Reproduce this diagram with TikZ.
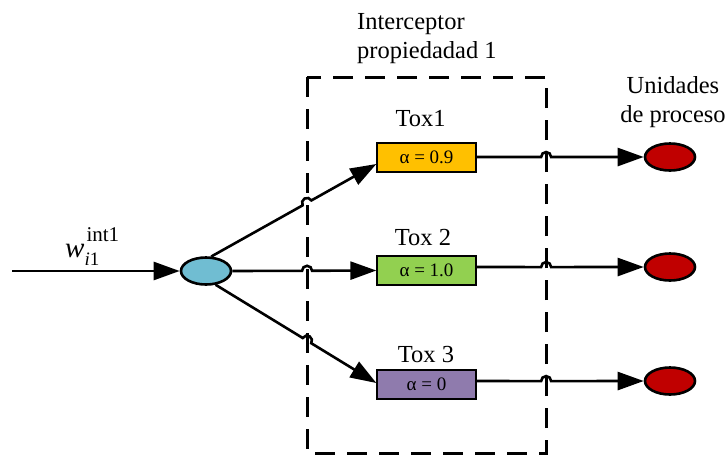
\documentclass[tikz,border=0pt]{standalone}
\usepackage{fontspec}
\setmainfont{Liberation Serif}
\usetikzlibrary{arrows.meta,calc,shapes.geometric}
\definecolor{toxorange}{HTML}{FFC000}
\definecolor{toxgreen}{HTML}{92D050}
\definecolor{toxpurple}{HTML}{8F7BAD}
\definecolor{hubblue}{HTML}{70BDD2}
\definecolor{unitred}{HTML}{C00000}

% connector with a small hop where it crosses the dashed frame
\newcommand{\hopconn}[3]{%
  \draw[conn] let \p1=($(#3)-(#1)$), \n1={atan2(\y1,\x1)} in
    (#1) -- ($(#2)!5pt!(#1)$)
    arc[start angle=\n1+180, end angle=\n1, radius=5pt] -- (#3);}

\begin{document}
\begin{tikzpicture}[x=1pt,y=-1pt,
  conn/.style={line width=2.6pt,-{Triangle[length=26pt,width=18pt]}},
  toxbox/.style={draw,line width=1.3pt,minimum width=99pt,minimum height=29pt,
    inner sep=0pt,font=\fontsize{19}{22}\selectfont},
  unit/.style={ellipse,draw,line width=2.6pt,minimum width=50pt,
    minimum height=27pt,inner sep=0pt},
  lbl/.style={font=\fontsize{24.5}{28.5}\selectfont,inner sep=0pt},
  frame/.style={line width=3pt,dash pattern=on 20pt off 12pt}]
\useasboundingbox (0,0) rectangle (728,456);

% dashed interceptor frame
\coordinate (fnw) at (307,77);
\coordinate (fne) at (546,77);
\coordinate (fsw) at (307,453);
\coordinate (fse) at (546,453);
\draw[frame] (fnw) rectangle (fse);

% nodes
\node[unit,fill=hubblue] (hub) at (206,271) {};
\node[toxbox,fill=toxorange] (tox1) at (426.5,157.5) {α = 0.9};
\node[toxbox,fill=toxgreen]  (tox2) at (426.5,270.5) {α = 1.0};
\node[toxbox,fill=toxpurple] (tox3) at (426.5,384.5) {α = 0};
\node[unit,fill=unitred] (u1) at (670,157) {};
\node[unit,fill=unitred] (u2) at (670,267) {};
\node[unit,fill=unitred] (u3) at (670,381) {};

% labels (base anchor of a two-line label is its last line)
\node[lbl,anchor=base west,align=left] (ictitle) at (357,58)
  {Interceptor\\propiedadad 1};
\node[lbl,anchor=base,align=center] (utitle) at (673,122)
  {Unidades\\de proceso};
\node[lbl,anchor=base] (l1) at (420.5,126) {Tox1};
\node[lbl,anchor=base] (l2) at (423,245) {Tox 2};
\node[lbl,anchor=base] (l3) at (426,362) {Tox 3};
\node[anchor=base west,inner sep=0pt] (wlbl) at (65,257)
  {\fontsize{29}{30}\selectfont\textit{w}%
   \makebox[0pt][l]{\hspace{2pt}\raisebox{16pt}{\fontsize{21}{24}\selectfont int1}}%
   \raisebox{-8pt}{\fontsize{19}{22}\selectfont\textit{i}1}};

% input
\coordinate (in) at (12,271);
\draw[conn] (in) -- (hub);

% hub to Tox boxes
\coordinate (a1) at (hub.70);
\coordinate (e1) at ($(tox1.west)+(0,6.5)$);
\coordinate (h1) at (intersection of a1--e1 and fnw--fsw);
\hopconn{a1}{h1}{e1}

\coordinate (a2) at (hub.east);
\coordinate (e2) at (tox2.west);
\coordinate (h2) at (intersection of a2--e2 and fnw--fsw);
\hopconn{a2}{h2}{e2}

\coordinate (a3) at (hub.-55);
\coordinate (e3) at ($(tox3.west)+(0,-1.5)$);
\coordinate (h3) at (intersection of a3--e3 and fnw--fsw);
\hopconn{a3}{h3}{e3}

% Tox boxes to processing units
\coordinate (b1) at (tox1.east |- u1);
\coordinate (g1) at (intersection of b1--u1.west and fne--fse);
\hopconn{b1}{g1}{u1.west}

\coordinate (b2) at (tox2.east |- u2);
\coordinate (g2) at (intersection of b2--u2.west and fne--fse);
\hopconn{b2}{g2}{u2.west}

\coordinate (b3) at (tox3.east |- u3);
\coordinate (g3) at (intersection of b3--u3.west and fne--fse);
\hopconn{b3}{g3}{u3.west}
\end{tikzpicture}
\end{document}
